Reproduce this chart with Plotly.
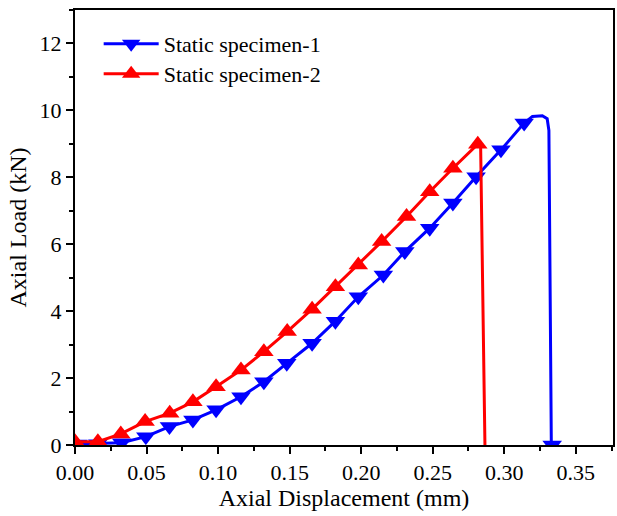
import plotly.graph_objects as go

# Static specimen-1 (blue, down triangles) - marker points
s1_x = [0.002, 0.016, 0.0326, 0.0495, 0.066, 0.0824, 0.0986, 0.116, 0.132, 0.148,
        0.1657, 0.182, 0.198, 0.2155, 0.2305, 0.2479, 0.2641, 0.2803, 0.2977, 0.3139]
s1_y = [0.03, 0.04, 0.07, 0.25, 0.55, 0.75, 1.05, 1.44, 1.89, 2.44,
        3.04, 3.70, 4.43, 5.08, 5.78, 6.48, 7.23, 8.02, 8.82, 9.62]
# peak and failure (no markers), then final marker
s1_peak_x = [0.3197, 0.3266, 0.3300, 0.3312, 0.3329]
s1_peak_y = [9.82, 9.84, 9.75, 9.40, 0.0]
s1_end_x = [0.3335]
s1_end_y = [0.0]

# Static specimen-2 (red, up triangles) - marker points
s2_x = [0.0, 0.016, 0.032, 0.049, 0.0662, 0.0824, 0.0986, 0.116, 0.132, 0.1483,
        0.1657, 0.182, 0.198, 0.2143, 0.2317, 0.2479, 0.2641, 0.2815]
s2_y = [0.10, 0.10, 0.33, 0.70, 0.95, 1.29, 1.74, 2.24, 2.79, 3.39,
        4.06, 4.73, 5.38, 6.08, 6.83, 7.57, 8.27, 8.99]
s2_drop_x = [0.2835, 0.2865]
s2_drop_y = [8.9, 0.0]

x_ticks = [0.00, 0.05, 0.10, 0.15, 0.20, 0.25, 0.30, 0.35]
y_ticks = [0, 2, 4, 6, 8, 10, 12]

FONT = "Liberation Serif"
MS = 17
BLUE = "#0000FF"
RED = "#FF0000"

fig = go.Figure()

bx = s1_x + s1_peak_x + s1_end_x
by = s1_y + s1_peak_y + s1_end_y
bsize = [MS] * len(s1_x) + [0] * len(s1_peak_x) + [MS] * len(s1_end_x)
fig.add_trace(go.Scatter(
    x=bx, y=by, mode="lines+markers", name="Static specimen-1", showlegend=False,
    line=dict(color=BLUE, width=3),
    marker=dict(symbol="triangle-down", size=bsize, color=BLUE, opacity=1, line=dict(width=0)),
))

rx = s2_x + s2_drop_x
ry = s2_y + s2_drop_y
rsize = [MS] * len(s2_x) + [0] * len(s2_drop_x)
fig.add_trace(go.Scatter(
    x=rx, y=ry, mode="lines+markers", name="Static specimen-2", showlegend=False,
    line=dict(color=RED, width=3),
    marker=dict(symbol="triangle-up", size=rsize, color=RED, opacity=1, line=dict(width=0)),
))

# legend entries
fig.add_trace(go.Scatter(
    x=[None], y=[None], mode="lines+markers", name="Static specimen-1", legend="legend",
    line=dict(color=BLUE, width=3),
    marker=dict(symbol="triangle-down", size=16, color=BLUE, line=dict(width=0)),
))
fig.add_trace(go.Scatter(
    x=[None], y=[None], mode="lines+markers", name="Static specimen-2", legend="legend2",
    line=dict(color=RED, width=3),
    marker=dict(symbol="triangle-up", size=16, color=RED, line=dict(width=0)),
))

axis_common = dict(
    showline=True, linecolor="black", linewidth=2, mirror=True,
    ticks="outside", ticklen=7, tickwidth=2, tickcolor="black",
    showgrid=False, zeroline=False,
    tickfont=dict(family=FONT, size=22, color="black"),
)

fig.update_xaxes(
    range=[0, 0.376], tickvals=x_ticks, tickformat=".2f",
    minor=dict(dtick=0.025, tick0=0, ticks="outside", ticklen=4, tickwidth=2, tickcolor="black"),
    title=dict(text="Axial Displacement (mm)", font=dict(family=FONT, size=24, color="black"), standoff=4),
    **axis_common,
)
fig.update_yaxes(
    range=[0, 13], tickvals=y_ticks,
    minor=dict(dtick=1, tick0=0, ticks="outside", ticklen=4, tickwidth=2, tickcolor="black"),
    title=dict(text="Axial Load (kN)", font=dict(family=FONT, size=24, color="black"), standoff=6),
    **axis_common,
)

leg_common = dict(
    xanchor="left", yanchor="middle",
    font=dict(family=FONT, size=22, color="black"),
    bgcolor="rgba(0,0,0,0)", itemwidth=55,
)

fig.update_layout(
    width=617, height=516,
    margin=dict(l=75, r=2, t=10, b=71),
    paper_bgcolor="white", plot_bgcolor="white",
    showlegend=True,
    legend=dict(x=0.044, y=0.922, **leg_common),
    legend2=dict(x=0.044, y=0.853, **leg_common),
)

fig.write_html("out.html", config={"displayModeBar": False},
               post_script="document.body.style.margin='0';")
